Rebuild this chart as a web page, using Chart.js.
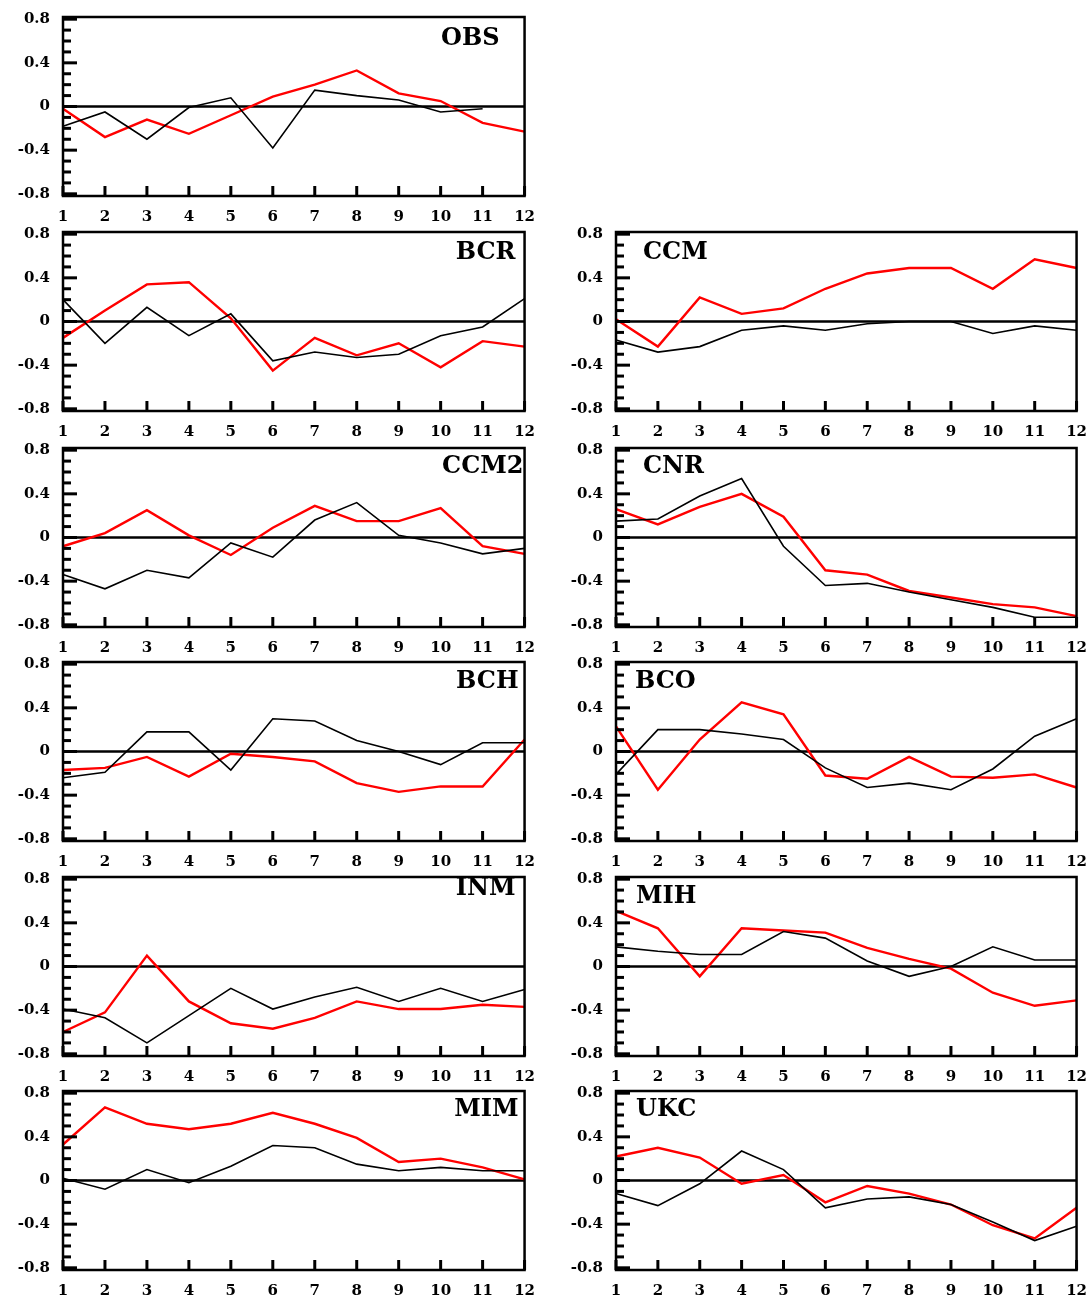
<!DOCTYPE html>
<html>
<head>
<meta charset="utf-8">
<title>Monthly anomaly panels</title>
<script src="https://cdn.jsdelivr.net/npm/chart.js@4.4.1/dist/chart.umd.min.js"></script>
<style>
  html, body { margin: 0; padding: 0; background: #ffffff; }
  #page { position: relative; width: 1092px; height: 1301px; overflow: hidden; background: #ffffff; }
  #page canvas { position: absolute; }
</style>
</head>
<body>
<div id="page"></div>
<script>
// Months on the x axis
const months = ['1', '2', '3', '4', '5', '6', '7', '8', '9', '10', '11', '12'];

// Labelled y ticks and the minor tick marks between them
const yMajorTicks = [-0.8, -0.4, 0, 0.4, 0.8];
const yMinorTicks = [-0.7, -0.6, -0.5, -0.3, -0.2, -0.1, 0.1, 0.2, 0.3, 0.5, 0.6, 0.7];

// Series per panel: black and red curves
const obsBlack  = [-0.18, -0.05, -0.30, -0.01, 0.08, -0.38, 0.15, 0.10, 0.06, -0.05, -0.02, null];
const obsRed    = [-0.02, -0.28, -0.12, -0.25, -0.08, 0.09, 0.20, 0.33, 0.12, 0.05, -0.15, -0.23];

const bcrBlack  = [0.20, -0.20, 0.13, -0.13, 0.07, -0.36, -0.28, -0.33, -0.30, -0.13, -0.05, 0.21];
const bcrRed    = [-0.15, 0.10, 0.34, 0.36, 0.03, -0.45, -0.15, -0.31, -0.20, -0.42, -0.18, -0.23];

const ccmBlack  = [-0.17, -0.28, -0.23, -0.08, -0.04, -0.08, -0.02, 0.00, 0.00, -0.11, -0.04, -0.08];
const ccmRed    = [0.02, -0.23, 0.22, 0.07, 0.12, 0.30, 0.44, 0.49, 0.49, 0.30, 0.57, 0.49];

const ccm2Black = [-0.34, -0.47, -0.30, -0.37, -0.05, -0.18, 0.16, 0.32, 0.02, -0.05, -0.15, -0.10];
const ccm2Red   = [-0.08, 0.04, 0.25, 0.02, -0.16, 0.09, 0.29, 0.15, 0.15, 0.27, -0.08, -0.15];

const cnrBlack  = [0.15, 0.17, 0.38, 0.54, -0.08, -0.44, -0.42, -0.50, -0.57, -0.64, -0.73, -0.73];
const cnrRed    = [0.26, 0.12, 0.28, 0.40, 0.19, -0.30, -0.34, -0.49, -0.55, -0.61, -0.64, -0.72];

const bchBlack  = [-0.24, -0.19, 0.18, 0.18, -0.17, 0.30, 0.28, 0.10, 0.00, -0.12, 0.08, 0.08];
const bchRed    = [-0.17, -0.15, -0.05, -0.23, -0.02, -0.05, -0.09, -0.29, -0.37, -0.32, -0.32, 0.11];

const bcoBlack  = [-0.21, 0.20, 0.20, 0.16, 0.11, -0.15, -0.33, -0.29, -0.35, -0.16, 0.14, 0.30];
const bcoRed    = [0.23, -0.35, 0.11, 0.45, 0.34, -0.22, -0.25, -0.05, -0.23, -0.24, -0.21, -0.33];

const inmBlack  = [-0.39, -0.47, -0.70, -0.45, -0.20, -0.39, -0.28, -0.19, -0.32, -0.20, -0.32, -0.21];
const inmRed    = [-0.60, -0.42, 0.10, -0.32, -0.52, -0.57, -0.47, -0.32, -0.39, -0.39, -0.35, -0.37];

const mihBlack  = [0.18, 0.14, 0.11, 0.11, 0.32, 0.26, 0.05, -0.09, 0.00, 0.18, 0.06, 0.06];
const mihRed    = [0.51, 0.35, -0.09, 0.35, 0.33, 0.31, 0.17, 0.07, -0.02, -0.24, -0.36, -0.31];

const mimBlack  = [0.02, -0.08, 0.10, -0.02, 0.13, 0.32, 0.30, 0.15, 0.09, 0.12, 0.09, 0.09];
const mimRed    = [0.33, 0.67, 0.52, 0.47, 0.52, 0.62, 0.52, 0.39, 0.17, 0.20, 0.12, 0.01];

const ukcBlack  = [-0.12, -0.23, -0.03, 0.27, 0.10, -0.25, -0.17, -0.15, -0.22, -0.38, -0.55, -0.42];
const ukcRed    = [0.22, 0.30, 0.21, -0.03, 0.05, -0.20, -0.05, -0.12, -0.22, -0.41, -0.53, -0.25];

// Panel placement on the page: column, row, and where the name sits
const panels = [
  { name: 'OBS',  col: 0, row: 0, black: obsBlack,  red: obsRed,  side: 'right', inset: 25, dy: 22 },
  { name: 'BCR',  col: 0, row: 1, black: bcrBlack,  red: bcrRed,  side: 'right', inset: 9,  dy: 21 },
  { name: 'CCM',  col: 1, row: 1, black: ccmBlack,  red: ccmRed,  side: 'left',  inset: 27, dy: 21 },
  { name: 'CCM2', col: 0, row: 2, black: ccm2Black, red: ccm2Red, side: 'right', inset: 1,  dy: 19 },
  { name: 'CNR',  col: 1, row: 2, black: cnrBlack,  red: cnrRed,  side: 'left',  inset: 27, dy: 19 },
  { name: 'BCH',  col: 0, row: 3, black: bchBlack,  red: bchRed,  side: 'right', inset: 6,  dy: 20 },
  { name: 'BCO',  col: 1, row: 3, black: bcoBlack,  red: bcoRed,  side: 'left',  inset: 19, dy: 20 },
  { name: 'INM',  col: 0, row: 4, black: inmBlack,  red: inmRed,  side: 'right', inset: 9,  dy: 12 },
  { name: 'MIH',  col: 1, row: 4, black: mihBlack,  red: mihRed,  side: 'left',  inset: 20, dy: 20 },
  { name: 'MIM',  col: 0, row: 5, black: mimBlack,  red: mimRed,  side: 'right', inset: 6,  dy: 19 },
  { name: 'UKC',  col: 1, row: 5, black: ukcBlack,  red: ukcRed,  side: 'left',  inset: 20, dy: 19 }
];

// Geometry of the grid. The scales reserve room for the end labels:
// about 22px above the plot (half a label + tick padding) and the same
// to the right of it, so the canvases are sized around that.
const rowTops = [17, 232, 448, 662, 877, 1091];
const columns = [
  { left: 0,   width: 547, axisWidth: 63 },
  { left: 555, width: 544, axisWidth: 61 }
];
const labelReserve = 22, plotHeight = 179, xAxisHeight = 30;

const tickFont = { family: '"DejaVu Serif", "Liberation Serif", serif', size: 15, weight: 'bold' };

// Zero line under the curves; frame, inward ticks and panel name over them
const panelDecor = {
  id: 'panelDecor',
  beforeDatasetsDraw(chart) {
    const { ctx, chartArea: a, scales } = chart;
    const y0 = scales.y.getPixelForValue(0);
    ctx.save();
    ctx.strokeStyle = '#000';
    ctx.lineWidth = 2.5;
    ctx.beginPath();
    ctx.moveTo(a.left, y0);
    ctx.lineTo(a.right, y0);
    ctx.stroke();
    ctx.restore();
  },
  afterDatasetsDraw(chart, args, opts) {
    const { ctx, chartArea: a, scales } = chart;
    ctx.save();
    ctx.strokeStyle = '#000';
    ctx.lineWidth = 3;
    ctx.lineCap = 'butt';
    // y ticks pointing into the plot
    yMajorTicks.forEach(v => {
      const py = scales.y.getPixelForValue(v);
      ctx.beginPath(); ctx.moveTo(a.left, py); ctx.lineTo(a.left + 14, py); ctx.stroke();
    });
    yMinorTicks.forEach(v => {
      const py = scales.y.getPixelForValue(v);
      ctx.beginPath(); ctx.moveTo(a.left, py); ctx.lineTo(a.left + 8, py); ctx.stroke();
    });
    // x ticks rising from the bottom edge
    months.forEach((m, i) => {
      const px = scales.x.getPixelForValue(i);
      ctx.beginPath(); ctx.moveTo(px, a.bottom); ctx.lineTo(px, a.bottom - 10); ctx.stroke();
    });
    // frame
    ctx.lineWidth = 2.5;
    ctx.strokeRect(a.left, a.top, a.right - a.left, a.bottom - a.top);
    // panel name
    ctx.fillStyle = '#000';
    ctx.font = 'bold 24px "DejaVu Serif", "Liberation Serif", serif';
    ctx.textBaseline = 'middle';
    if (opts.side === 'right') {
      ctx.textAlign = 'right';
      ctx.fillText(opts.name, a.right - opts.inset, a.top + opts.dy);
    } else {
      ctx.textAlign = 'left';
      ctx.fillText(opts.name, a.left + opts.inset, a.top + opts.dy);
    }
    ctx.restore();
  }
};

const page = document.getElementById('page');

panels.forEach(p => {
  const col = columns[p.col];
  const canvas = document.createElement('canvas');
  const h = labelReserve + plotHeight + xAxisHeight;
  canvas.width = col.width;
  canvas.height = h;
  canvas.style.width = col.width + 'px';
  canvas.style.height = h + 'px';
  canvas.style.left = col.left + 'px';
  canvas.style.top = (rowTops[p.row] - labelReserve) + 'px';
  page.appendChild(canvas);

  new Chart(canvas, {
    type: 'line',
    data: {
      labels: months,
      datasets: [
        { data: p.black, borderColor: '#000000', borderWidth: 1.6, pointRadius: 0, tension: 0, fill: false, spanGaps: false },
        { data: p.red,   borderColor: '#ff0000', borderWidth: 2.4, pointRadius: 0, tension: 0, fill: false }
      ]
    },
    options: {
      responsive: false,
      animation: false,
      devicePixelRatio: 1,
      layout: { padding: 0 },
      plugins: {
        legend: { display: false },
        tooltip: { enabled: false },
        title: { display: false },
        panelDecor: { name: p.name, side: p.side, inset: p.inset, dy: p.dy }
      },
      scales: {
        x: {
          type: 'category',
          offset: false,
          grid: { display: false, drawTicks: false },
          border: { display: false },
          ticks: { color: '#000', font: tickFont, padding: 12, maxRotation: 0, autoSkip: false },
          afterFit(scale) { scale.height = xAxisHeight; }
        },
        y: {
          min: -0.82,
          max: 0.82,
          grid: { display: false, drawTicks: false },
          border: { display: false },
          afterBuildTicks(scale) { scale.ticks = yMajorTicks.map(v => ({ value: v })); },
          ticks: {
            color: '#000',
            font: tickFont,
            padding: 13,
            callback: v => (v === 0 ? '0' : String(Math.round(v * 10) / 10))
          },
          afterFit(scale) { scale.width = col.axisWidth; }
        }
      }
    },
    plugins: [panelDecor]
  });
});
</script>
</body>
</html>
